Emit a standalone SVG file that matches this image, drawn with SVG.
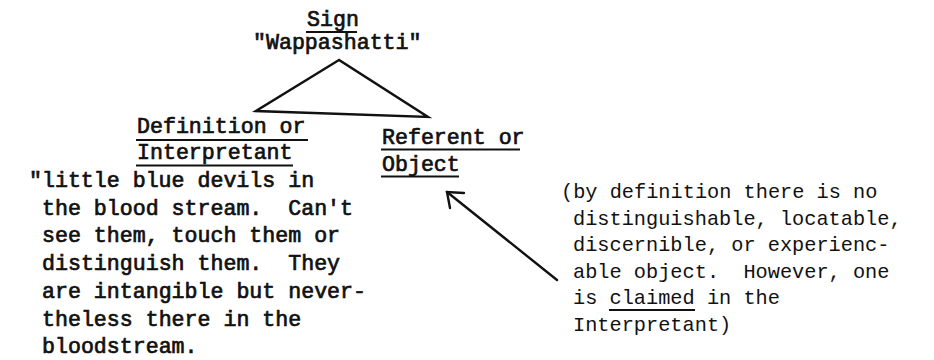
<svg xmlns="http://www.w3.org/2000/svg" width="934" height="360" viewBox="0 0 934 360">
  <style>
    text { font-family: "Liberation Mono", "Courier New", monospace; fill: #111; white-space: pre; }
    .big { font-size: 21.6px; }
    .note { font-size: 20.3px; }
    .heavy { stroke: #111; stroke-width: 0.7px; }
    .rule { stroke: #111; stroke-width: 2.2px; fill: none; }
    .edge { stroke: #111; stroke-width: 2.4px; fill: none; stroke-linejoin: miter; stroke-linecap: round; }
  </style>

  <!-- Sign -->
  <g id="sign">
    <text class="big heavy" x="307" y="26" font-size="20px">Sign</text>
    <line class="rule" x1="306" y1="32" x2="357" y2="32"/>
    <text class="big heavy" x="253" y="49">"Wappashatti"</text>
  </g>

  <!-- Definition or Interpretant -->
  <g id="interpretant">
    <text class="big heavy" x="137" y="133">Definition or</text>
    <line class="rule" x1="136" y1="140" x2="308" y2="140"/>
    <text class="big heavy" x="137" y="159">Interpretant</text>
    <line class="rule" x1="136" y1="165.5" x2="293" y2="165.5"/>
    <text class="big heavy" xml:space="preserve"><tspan x="29" y="187">"little blue devils in</tspan><tspan x="42" y="214.7">the blood stream.  Can't</tspan><tspan x="42" y="242.4">see them, touch them or</tspan><tspan x="42" y="270">distinguish them.  They</tspan><tspan x="42" y="297.8">are intangible but never-</tspan><tspan x="42" y="325.5">theless there in the</tspan><tspan x="42" y="353.2">bloodstream.</tspan></text>
  </g>

  <!-- Referent or Object -->
  <g id="referent">
    <text class="big heavy" x="382" y="144">Referent or</text>
    <line class="rule" x1="381" y1="149.5" x2="520" y2="149.5"/>
    <text class="big heavy" x="382" y="171">Object</text>
    <line class="rule" x1="381" y1="176.5" x2="459" y2="176.5"/>
  </g>

  <!-- Note on the object -->
  <g id="note">
    <text class="note" xml:space="preserve"><tspan x="561" y="198">(by definition there is no</tspan><tspan x="573" y="224.5">distinguishable, locatable,</tspan><tspan x="573" y="251">discernible, or experienc-</tspan><tspan x="573" y="277.5">able object.  However, one</tspan><tspan x="573" y="304">is claimed in the</tspan><tspan x="573" y="330.5">Interpretant)</tspan></text>
    <line class="rule" x1="609" y1="310" x2="695" y2="310"/>
  </g>

  <!-- Connectors -->
  <g id="connectors">
    <polygon class="edge" points="339,60 256,111 428,117"/>
    <line class="edge" x1="557" y1="280" x2="447" y2="192"/>
    <polyline class="edge" points="464,193 447,192 450,208"/>
  </g>
</svg>
